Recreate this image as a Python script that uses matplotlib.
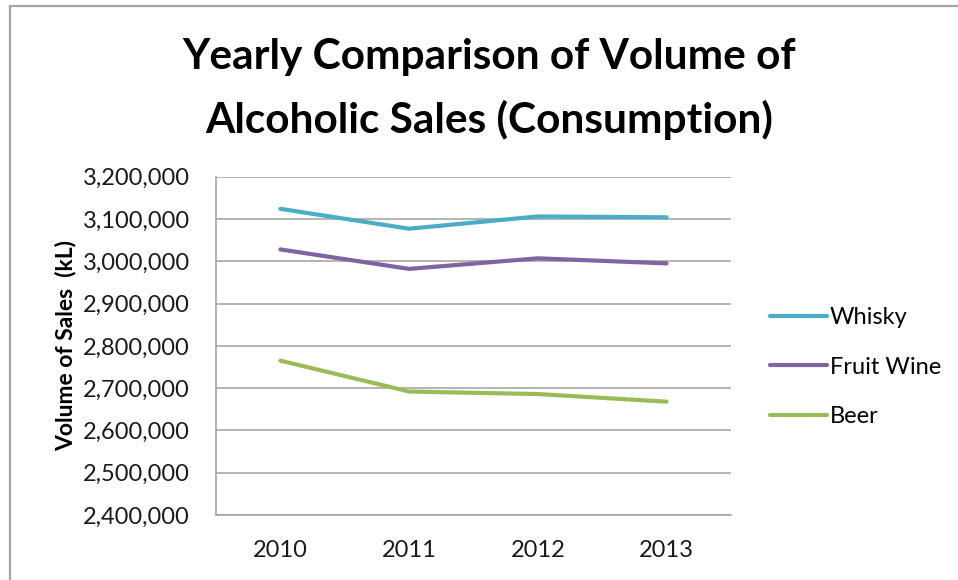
import matplotlib
matplotlib.use("Agg")
import matplotlib.pyplot as plt
from matplotlib.lines import Line2D
from matplotlib.ticker import FuncFormatter, MultipleLocator

plt.rcParams['font.family'] = ['Lato', 'DejaVu Sans']

years = ["2010", "2011", "2012", "2013"]
whisky = [3124000, 3077000, 3106000, 3104000]
fruit_wine = [3028000, 2982000, 3007000, 2995000]
beer = [2765000, 2692000, 2686000, 2668000]

series_names = ["Whisky", "Fruit Wine", "Beer"]
series_colors = ["#4BACC6", "#8064A2", "#9BBB59"]

W, H = 958, 580
fig = plt.figure(figsize=(W / 100, H / 100), dpi=100)
fig.patch.set_facecolor("white")

# outer chart-area border (left and top edges)
border = "#A6A6A6"
fig.add_artist(Line2D([10 / W, 10 / W], [0, 1 - 6 / H], transform=fig.transFigure,
                      color=border, lw=1.6))
fig.add_artist(Line2D([10 / W, 1], [1 - 6 / H, 1 - 6 / H], transform=fig.transFigure,
                      color=border, lw=1.6))

# plot area in pixel coordinates
left, right, top, bottom = 216, 731, 176.7, 515
ax = fig.add_axes([left / W, 1 - bottom / H, (right - left) / W, (bottom - top) / H])

x = range(len(years))
for vals, name, col in zip([whisky, fruit_wine, beer], series_names, series_colors):
    ax.plot(x, vals, color=col, lw=3.0, solid_capstyle="round", label=name, zorder=3)

ax.set_xlim(-0.5, len(years) - 0.5)
ax.set_ylim(2400000, 3200000)
ax.yaxis.set_major_locator(MultipleLocator(100000))
ax.yaxis.set_major_formatter(FuncFormatter(lambda v, p: f"{int(round(v)):,}"))
ax.set_xticks(list(x))
ax.set_xticklabels(years)

grid_col = "#A0A0A0"
ax.grid(axis="y", color=grid_col, lw=1.1, zorder=1)
for s in ["top", "right"]:
    ax.spines[s].set_visible(False)
for s in ["left", "bottom"]:
    ax.spines[s].set_color(grid_col)
    ax.spines[s].set_linewidth(1.1)
ax.tick_params(axis="both", length=0, labelsize=17, colors="#1a1a1a")
ax.tick_params(axis="y", pad=19)
ax.tick_params(axis="x", pad=18)

ax.set_ylabel("Volume of Sales  (kL)", fontsize=16.5, fontweight="bold", labelpad=4)

fig.text(489 / W, 1 - 57 / H, "Yearly Comparison of Volume of", ha="center", va="center",
         fontsize=30.5, fontweight="bold")
fig.text(489 / W, 1 - 120 / H, "Alcoholic Sales (Consumption)", ha="center", va="center",
         fontsize=30.5, fontweight="bold")

leg = ax.legend(loc="center left", bbox_to_anchor=(770 / W, 1 - 367 / H),
                bbox_transform=fig.transFigure, frameon=False, fontsize=17,
                handlelength=2.4, handletextpad=0.12, labelspacing=1.2,
                borderpad=0, borderaxespad=0)

fig.savefig("out.png", dpi=100, facecolor="white")
